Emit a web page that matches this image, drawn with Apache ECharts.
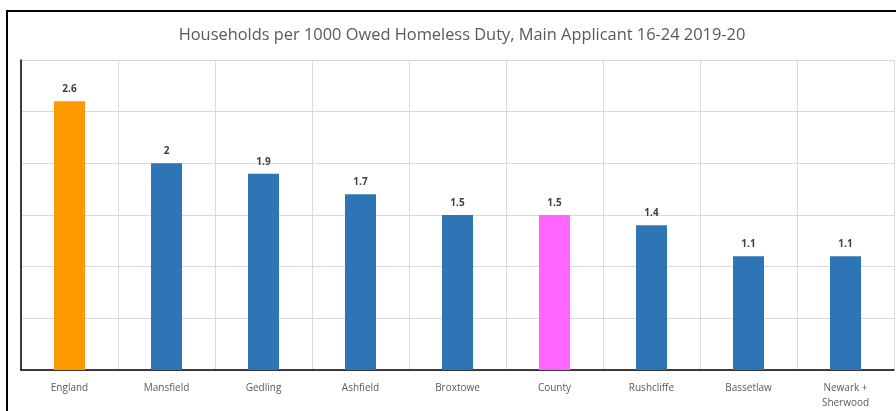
<!DOCTYPE html>
<html>
<head>
<meta charset="utf-8">
<script src="https://cdn.jsdelivr.net/npm/echarts@6/dist/echarts.min.js"></script>
<style>
  html, body { margin: 0; padding: 0; background: #fff; }
  #frame { position: absolute; left: 6px; top: 10px; width: 896px; height: 411px; border-left: 2px solid #000; border-top: 2px solid #000; box-sizing: border-box; }
  #chart { position: absolute; left: 0; top: 0; width: 896px; height: 411px; }
</style>
</head>
<body>
<div id="frame"></div>
<div id="chart"></div>
<script>
// Areas compared in the chart
const areas = ['England', 'Mansfield', 'Gedling', 'Ashfield', 'Broxtowe', 'County', 'Rushcliffe', 'Bassetlaw', 'Newark +\nSherwood'];
// Households per 1000 owed a homeless duty (main applicant aged 16-24)
const rates = [2.6, 2.0, 1.9, 1.7, 1.5, 1.5, 1.4, 1.1, 1.1];
// Bar fill per area: national and county figures highlighted
const barColours = ['#FF9900', '#2E75B6', '#2E75B6', '#2E75B6', '#2E75B6', '#FF66FF', '#2E75B6', '#2E75B6', '#2E75B6'];

const chart = echarts.init(document.getElementById('chart'), null, { renderer: 'canvas' });
chart.setOption({
  animation: false,
  backgroundColor: 'transparent',
  title: {
    text: 'Households per 1000 Owed Homeless Duty, Main Applicant 16-24 2019-20',
    left: 457, top: 22, textAlign: 'center',
    textStyle: { fontFamily: 'Open Sans', fontSize: 16.4, fontWeight: 'normal', color: '#595959' }
  },
  grid: { left: 21, right: 2, top: 60, bottom: 39 },
  xAxis: {
    type: 'category',
    data: areas,
    axisLine: { lineStyle: { color: '#000', width: 1.5 } },
    axisTick: { show: false },
    splitLine: { show: true, lineStyle: { color: '#d9d9d9', width: 1 } },
    axisLabel: { color: '#595959', fontFamily: 'Open Sans', fontSize: 10, margin: 11, lineHeight: 15, interval: 0 }
  },
  yAxis: {
    type: 'value', min: 0, max: 3, interval: 0.5,
    axisLine: { show: true, lineStyle: { color: '#000', width: 1.5 } },
    axisTick: { show: false },
    axisLabel: { show: false },
    splitLine: { lineStyle: { color: '#d9d9d9', width: 1 } }
  },
  series: [{
    type: 'bar',
    barWidth: '32%',
    data: rates.map((v, i) => ({ value: v, itemStyle: { color: barColours[i] } })),
    label: {
      show: true, position: 'top', distance: 7,
      color: '#404040', fontFamily: 'Open Sans', fontSize: 10, fontWeight: 'bold'
    }
  }]
});
</script>
</body>
</html>
